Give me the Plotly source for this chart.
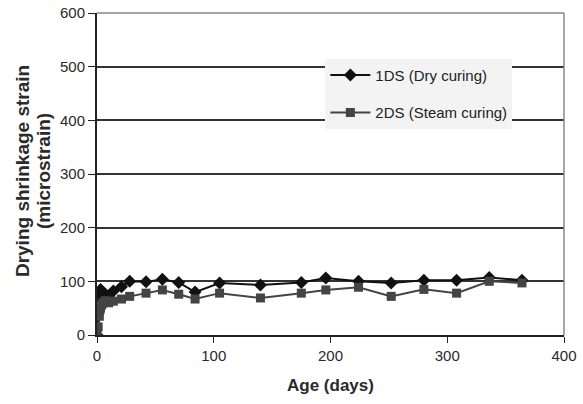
import plotly.graph_objects as go

days = [0, 1, 2, 3, 4, 5, 7, 10, 14, 21, 28, 42, 56, 70, 84, 105, 140, 175, 196, 224, 252, 280, 308, 336, 364]
dry_1ds = [0, 40, 70, 85, 82, 80, 76, 73, 82, 90, 100, 99, 104, 98, 80, 97, 93, 98, 106, 100, 97, 102, 102, 107, 102]
steam_2ds = [0, 15, 35, 50, 56, 60, 64, 60, 63, 67, 72, 78, 84, 76, 67, 78, 69, 78, 84, 89, 72, 85, 78, 100, 97]

x_ticks = [0, 100, 200, 300, 400]
y_ticks = [0, 100, 200, 300, 400, 500, 600]

fig = go.Figure()
fig.add_trace(go.Scatter(
    x=days, y=dry_1ds, name="1DS (Dry curing)", mode="lines+markers",
    legendgroup="a",
    line=dict(color="#111111", width=2),
    marker=dict(symbol="diamond", size=10, color="#111111"),
))
fig.add_trace(go.Scatter(
    x=days, y=steam_2ds, name="2DS (Steam curing)", mode="lines+markers",
    legendgroup="b",
    line=dict(color="#444444", width=2),
    marker=dict(symbol="square", size=9, color="#444444"),
))

font_family = "Liberation Sans, Arial, sans-serif"

fig.update_layout(
    width=583, height=404,
    margin=dict(l=97, r=19, t=13, b=69),
    paper_bgcolor="white", plot_bgcolor="white",
    font=dict(family=font_family, size=15, color="#2a2a2a"),
    showlegend=True,
    legend=dict(
        x=0.489, y=0.858, xanchor="left", yanchor="top",
        bgcolor="#f3f3f3", borderwidth=0,
        font=dict(size=15, color="#222222"),
        itemwidth=40, tracegroupgap=15,
    ),
    xaxis=dict(
        range=[0, 400], tickvals=x_ticks, ticks="outside", ticklen=6,
        tickcolor="#222222", showline=True, linecolor="#222222", linewidth=2,
        showgrid=False, zeroline=False, automargin=False,
        tickfont=dict(size=15),
        title=dict(text="<b>Age (days)</b>", font=dict(size=17), standoff=16),
    ),
    yaxis=dict(
        range=[0, 600], tickvals=y_ticks, ticks="outside", ticklen=7,
        tickcolor="#222222", showline=True, linecolor="#222222", linewidth=2,
        showgrid=True, gridcolor="#333333", gridwidth=1.5, zeroline=False,
        automargin=False,
        tickfont=dict(size=15),
    ),
    annotations=[
        dict(text="<b>Drying shrinkage strain</b>",
             xref="paper", yref="paper", x=-0.16, y=0.51, xanchor="center", yanchor="middle",
             textangle=-90, showarrow=False, font=dict(size=19, color="#2a2a2a")),
        dict(text="<b>(microstrain)</b>",
             xref="paper", yref="paper", x=-0.113, y=0.51, xanchor="center", yanchor="middle",
             textangle=-90, showarrow=False, font=dict(size=19, color="#2a2a2a")),
    ],
    shapes=[
        dict(type="line", xref="paper", yref="paper", x0=0, x1=1, y0=1, y1=1,
             line=dict(color="#888888", width=1.5)),
        dict(type="line", xref="paper", yref="paper", x0=1, x1=1, y0=0, y1=1,
             line=dict(color="#888888", width=1.5)),
    ],
)

fig.write_html("out.html")
